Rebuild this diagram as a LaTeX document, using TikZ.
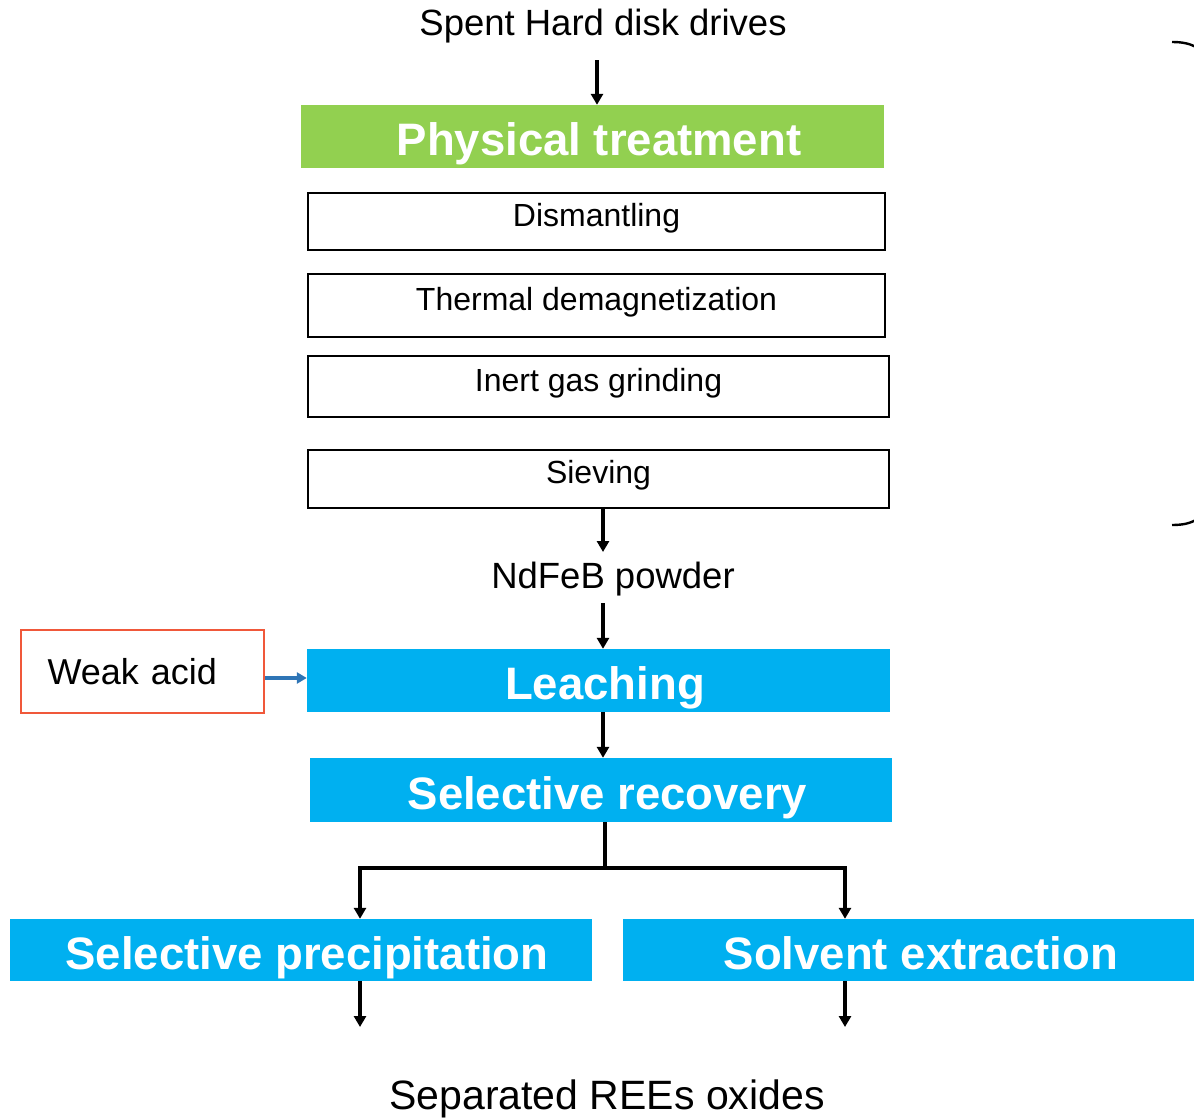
\documentclass[tikz,border=0pt]{standalone}
\usepackage{fontspec}
\setmainfont{Liberation Sans}
\usetikzlibrary{arrows.meta}
\definecolor{grn}{HTML}{92D050}
\definecolor{cyn}{HTML}{00B0F0}
\definecolor{org}{HTML}{F0583A}
\definecolor{arrblue}{HTML}{2E75B6}
\begin{document}
\begin{tikzpicture}[x=1pt,y=-1pt,
  arr/.style={line width=3.2pt,-{Triangle[length=11pt,width=12pt]}},
  barr/.style={line width=3.2pt,arrblue,-{Triangle[length=10pt,width=11pt]}},
  plain/.style={line width=3.2pt},
  stepbox/.style={draw,line width=1.8pt,inner sep=0pt,font=\fontsize{32}{36}\selectfont,text height=23pt,text depth=14pt},
  band/.style={inner sep=0pt,text=white,font=\fontsize{45.5}{50}\selectfont\bfseries,text height=38pt,text depth=0pt},
  lbl/.style={inner sep=0pt}
]
\useasboundingbox (0,0) rectangle (1194,1117);

\node[lbl,font=\fontsize{36.5}{40}\selectfont] (spent) at (603,26) {Spent Hard disk drives};
\node[band,fill=grn,minimum width=583pt,minimum height=63pt] (phys) at (592.5,136.5) {\hspace*{13pt}Physical treatment};
\node[stepbox,minimum width=577pt,minimum height=57pt] (dis) at (596.5,221.5) {Dismantling};
\node[stepbox,minimum width=577pt,minimum height=63pt] (therm) at (596.5,305.5) {Thermal demagnetization};
\node[stepbox,minimum width=581pt,minimum height=61pt] (inert) at (598.5,386.5) {Inert gas grinding};
\node[stepbox,minimum width=581pt,minimum height=58pt] (siev) at (598.5,479) {Sieving};
\node[lbl,font=\fontsize{36.5}{40}\selectfont] (ndfeb) at (613,579) {NdFeB powder};
\node[band,fill=cyn,minimum width=583pt,minimum height=63pt] (lea) at (598.5,680.5) {\hspace*{13pt}Leaching};
\node[draw=org,line width=2pt,minimum width=243pt,minimum height=83pt,text width=190pt,align=left,font=\fontsize{36}{40}\selectfont] (weak) at (142.5,671.5) {Weak acid};
\node[band,fill=cyn,minimum width=582pt,minimum height=64pt] (selrec) at (601,790) {\hspace*{13pt}Selective recovery};
\node[band,fill=cyn,minimum width=582pt,minimum height=62pt] (prec) at (301,950) {\hspace*{12pt}Selective precipitation};
\node[band,fill=cyn,minimum width=596pt,minimum height=62pt] (solv) at (921,950) {Solvent extraction};
\node[lbl,font=\fontsize{41}{45}\selectfont] (sep) at (607,1099) {Separated REEs oxides};

\coordinate (x597) at (597,60);
\coordinate (x603) at (603,0);
\coordinate (x605) at (605,0);
\coordinate (x360) at (360,0);
\coordinate (x845) at (845,0);
\coordinate (y678) at (0,678);
\coordinate (nda) at (603,552);
\coordinate (ndb) at (603,603);
\coordinate (split) at (605,868);
\coordinate (pend) at (360,1027);
\coordinate (send) at (845,1027);

\draw[arr] (x597) -- (x597|-phys.north);
\draw[arr] (x603|-siev.south) -- (nda);
\draw[arr] (ndb) -- (x603|-lea.north);
\draw[arr] (x603|-lea.south) -- (x603|-selrec.north);
\draw[plain] (x605|-selrec.south) -- (split);
\draw[arr] (split) -| (x360|-prec.north);
\draw[arr] (split) -| (x845|-solv.north);
\draw[arr] (x360|-prec.south) -- (pend);
\draw[arr] (x845|-solv.south) -- (send);
\draw[barr] (weak.east|-y678) -- (lea.west|-y678);

% brace (cut off at right edge)
\draw[line width=2.4pt] (1172,42) .. controls (1184,42) and (1190,44) .. (1196,47);
\draw[line width=2.4pt] (1172,525) .. controls (1184,525) and (1190,523) .. (1196,520);
\end{tikzpicture}
\end{document}
